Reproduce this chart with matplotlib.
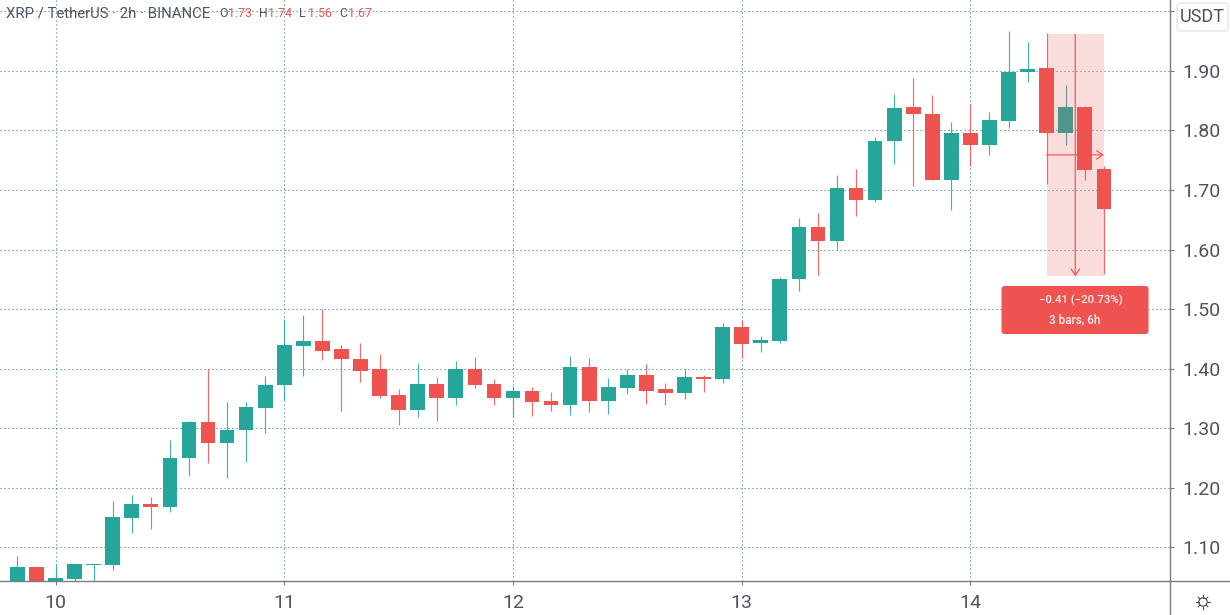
import matplotlib
matplotlib.use('Agg')
import matplotlib.pyplot as plt
from matplotlib.patches import Circle, FancyBboxPatch

plt.rcParams['font.family'] = ['Roboto', 'DejaVu Sans']

GREEN = '#26a69a'
RED = '#ef5350'
TEXT = '#50535e'
AXIS = '#787b86'
GRID = '#2f8585'

# 2h candles, index 0 is the tick for day 10
first_index = -2
opens = [1.03, 1.067, 1.035, 1.046, 1.069, 1.070, 1.148, 1.172, 1.167, 1.250,
         1.310, 1.275, 1.297, 1.334, 1.372, 1.438, 1.446, 1.433, 1.416, 1.399,
         1.355, 1.330, 1.374, 1.350, 1.399, 1.374, 1.350, 1.363, 1.345, 1.339,
         1.402, 1.346, 1.368, 1.389, 1.365, 1.359, 1.386, 1.383, 1.469, 1.443,
         1.447, 1.550, 1.638, 1.614, 1.703, 1.683, 1.782, 1.839, 1.827, 1.717,
         1.796, 1.776, 1.816, 1.898, 1.905, 1.795, 1.839, 1.735]
highs = [1.085, 1.067, 1.071, 1.071, 1.071, 1.177, 1.187, 1.184, 1.280, 1.312,
         1.400, 1.344, 1.344, 1.387, 1.483, 1.490, 1.500, 1.440, 1.443, 1.425,
         1.365, 1.409, 1.386, 1.412, 1.419, 1.382, 1.371, 1.369, 1.360, 1.421,
         1.417, 1.384, 1.400, 1.407, 1.375, 1.400, 1.389, 1.476, 1.482, 1.455,
         1.554, 1.653, 1.662, 1.725, 1.736, 1.789, 1.861, 1.889, 1.860, 1.814,
         1.845, 1.831, 1.967, 1.949, 1.964, 1.876, 1.842, 1.741]
lows = [1.02, 1.02, 1.02, 1.03, 1.03, 1.061, 1.124, 1.131, 1.159, 1.219,
        1.241, 1.216, 1.243, 1.292, 1.347, 1.387, 1.415, 1.329, 1.378, 1.351,
        1.305, 1.319, 1.311, 1.339, 1.367, 1.339, 1.318, 1.320, 1.329, 1.322,
        1.327, 1.324, 1.357, 1.341, 1.339, 1.349, 1.360, 1.375, 1.417, 1.428,
        1.443, 1.530, 1.557, 1.601, 1.657, 1.679, 1.744, 1.707, 1.717, 1.666,
        1.740, 1.759, 1.805, 1.882, 1.710, 1.775, 1.717, 1.559]
closes = [1.067, 1.035, 1.048, 1.071, 1.071, 1.150, 1.172, 1.167, 1.250, 1.310,
          1.275, 1.297, 1.335, 1.373, 1.440, 1.446, 1.430, 1.416, 1.396, 1.354,
          1.330, 1.374, 1.350, 1.400, 1.373, 1.350, 1.363, 1.344, 1.339, 1.402,
          1.346, 1.369, 1.389, 1.363, 1.359, 1.386, 1.382, 1.469, 1.442, 1.448,
          1.550, 1.638, 1.614, 1.703, 1.683, 1.783, 1.837, 1.827, 1.717, 1.796,
          1.776, 1.817, 1.899, 1.904, 1.795, 1.839, 1.733, 1.668]

price_ticks = [1.10, 1.20, 1.30, 1.40, 1.50, 1.60, 1.70, 1.80, 1.90, 2.00]
price_labels = ['1.10', '1.20', '1.30', '1.40', '1.50', '1.60', '1.70', '1.80', '1.90', '']
day_ticks = [0, 12, 24, 36, 48]
day_labels = ['10', '11', '12', '13', '14']

# measure tool
measure_start = 52
measure_end = 55
measure_top = 1.962
measure_bottom = 1.555
measure_mid = 1.759

fig = plt.figure(figsize=(12.3, 6.15), dpi=100)
ax = fig.add_axes([0, 34 / 615, 1170 / 1230, 581 / 615])

xs = [first_index + n for n in range(len(opens))]
colors = [GREEN if c >= o else RED for o, c in zip(opens, closes)]
ax.vlines(xs, lows, highs, colors=colors, linewidth=0.85, alpha=0.85, zorder=2)
ax.bar(xs, [c - o for o, c in zip(opens, closes)], bottom=opens, width=0.77,
       color=colors, linewidth=0, zorder=2.5)

ax.fill_between([measure_start, measure_end], measure_bottom, measure_top,
                color=RED, alpha=0.2, linewidth=0, zorder=3)
mid_x = (measure_start + measure_end) / 2
head = '->,head_length=0.45,head_width=0.3'
ax.annotate('', xy=(mid_x, measure_bottom), xytext=(mid_x, measure_top), zorder=4,
            arrowprops=dict(arrowstyle=head, color=RED, lw=0.85, shrinkA=0, shrinkB=0))
ax.annotate('', xy=(measure_end, measure_mid), xytext=(measure_start, measure_mid), zorder=4,
            arrowprops=dict(arrowstyle=head, color=RED, lw=0.85, shrinkA=0, shrinkB=0))

ax.set_xlim(-2.912, 58.47)
ax.set_ylim(1.0429, 2.0193)
ax.set_xticks(day_ticks)
ax.set_xticklabels(day_labels)
ax.set_yticks(price_ticks)
ax.set_yticklabels(price_labels)
ax.yaxis.tick_right()
ax.tick_params(axis='y', length=3, width=0.8, color=AXIS, labelsize=14, labelcolor=TEXT, pad=6)
ax.tick_params(axis='x', length=3, width=0.8, color=AXIS, labelsize=14, labelcolor=TEXT, pad=6)
ax.grid(True, color=GRID, linewidth=0.8, linestyle=(0, (1, 2.6)), zorder=1)
ax.set_axisbelow(True)
ax.spines['top'].set_visible(False)
ax.spines['left'].set_visible(False)
for side in ['right', 'bottom']:
    ax.spines[side].set_color(AXIS)
    ax.spines[side].set_linewidth(1.0)

# header, badge, label and corner icon sit on a pixel overlay
top = fig.add_axes([0, 0, 1, 1], facecolor='none')
top.set_xlim(0, 1230)
top.set_ylim(615, 0)
top.axis('off')

top.plot([1170, 1170], [581, 615], color=AXIS, lw=1.0)
top.plot([1170, 1230], [581, 581], color=AXIS, lw=1.0)

top.text(6, 13, 'XRP / TetherUS · 2h · BINANCE', fontsize=10.7, color=TEXT, va='center')
for x, name, value in [(219, 'O', '1.73'), (259, 'H', '1.74'), (299, 'L', '1.56'), (339, 'C', '1.67')]:
    top.text(x, 13.5, name, fontsize=8.8, color=TEXT, va='center')
    top.text(x + 9, 13.5, value, fontsize=8.8, color=RED, va='center')

top.add_patch(FancyBboxPatch((1179, 5), 47, 24, boxstyle='round,pad=2,rounding_size=4',
                             facecolor='white', edgecolor='#e0e3eb', linewidth=0.9))
top.text(1202.5, 17.5, 'USDT', fontsize=13, color=TEXT, ha='center', va='center')

top.add_patch(FancyBboxPatch((1003.5, 288), 143, 44, boxstyle='round,pad=2,rounding_size=3',
                             facecolor=RED, edgecolor='none'))
top.text(1081, 300, '\u22120.41 (\u221220.73%)', fontsize=8.2, color='#fdf0f0',
         ha='center', va='center', fontweight='medium')
top.text(1075, 320, '3 bars, 6h', fontsize=8.5, color='#fdf0f0',
         ha='center', va='center', fontweight='medium')

# sun icon
top.add_patch(Circle((1203, 602), 4.2, facecolor='none', edgecolor='#3f424d', linewidth=0.8))
for dx, dy in [(1, 0), (-1, 0), (0, 1), (0, -1), (.7, .7), (-.7, .7), (.7, -.7), (-.7, -.7)]:
    top.plot([1203 + 4.5 * dx, 1203 + 7 * dx], [602 + 4.5 * dy, 602 + 7 * dy], color='#3f424d', lw=0.7)

fig.savefig('out.png', dpi=100)
